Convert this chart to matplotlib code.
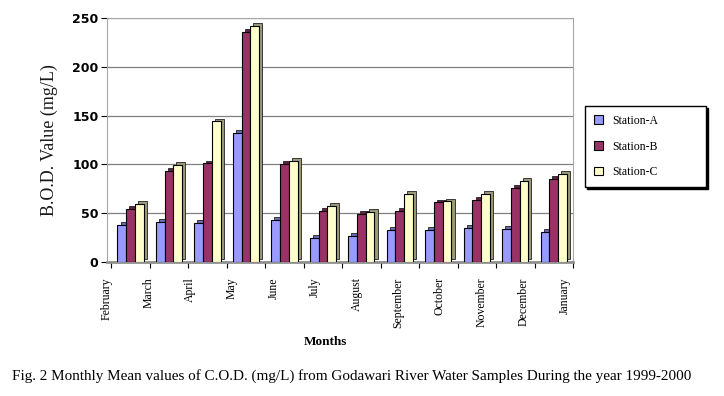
import matplotlib.pyplot as plt
from matplotlib.patches import Patch
import numpy as np

months = ['February', 'March', 'April', 'May', 'June', 'July', 'August',
          'September', 'October', 'November', 'December', 'January']
station_a = [38, 41, 40, 132, 43, 25, 27, 33, 33, 35, 34, 31]
station_b = [54, 93, 101, 236, 100, 52, 49, 52, 61, 64, 76, 85]
station_c = [59, 99, 144, 242, 104, 57, 51, 70, 62, 70, 83, 90]
series_names = ['Station-A', 'Station-B', 'Station-C']
y_ticks = [0, 50, 100, 150, 200, 250]

front_colors = ['#9999ff', '#993366', '#ffffcc']
depth_colors = ['#6a6ab8', '#661f44', '#9a9a78']

serif = 'Liberation Serif'

fig = plt.figure(figsize=(7.24, 3.96), dpi=100)
ax = fig.add_axes([0.1474, 0.3384, 0.644, 0.616])

x = np.arange(len(months))
width = 0.227
dx, dy = 0.08, 3.0  # fake 3d depth of each bar

for i, vals in enumerate([station_a, station_b, station_c]):
    pos = x + (i - 1) * width
    # side/top face drawn as a shifted darker bar behind the front face
    ax.bar(pos + dx, vals, width=width, bottom=dy, color=depth_colors[i],
           edgecolor='#222222', linewidth=0.6, zorder=2 + 2 * i)
    ax.bar(pos, vals, width=width, color=front_colors[i],
           edgecolor='black', linewidth=0.8, zorder=3 + 2 * i)

ax.set_xlim(-0.5, 11.5)
ax.set_ylim(0, 250)
ax.set_yticks(y_ticks)
ax.set_yticklabels([str(v) for v in y_ticks], fontfamily='DejaVu Sans',
                   fontweight='bold', fontsize=9)
ax.tick_params(axis='y', length=4, width=0.8, pad=2)
ax.grid(axis='y', color='#808080', linewidth=0.9, zorder=0)
ax.set_axisbelow(True)

# category boundaries get the small ticks, month names drift as in the original
ax.set_xticks(np.arange(len(months) + 1) - 0.5, minor=True)
ax.tick_params(axis='x', which='minor', length=4, width=0.8)
label_pos = np.linspace(-0.62, 11.29, len(months))
ax.set_xticks(label_pos)
ax.set_xticklabels(months, rotation=90, fontfamily=serif, fontsize=8.5, va='top')
ax.tick_params(axis='x', which='major', length=0, pad=11)

for side in ['left', 'right', 'top']:
    ax.spines[side].set_color('#a8a8a8')
ax.spines['bottom'].set_color('#909090')
ax.spines['bottom'].set_linewidth(2)

ax.set_ylabel('B.O.D. Value (mg/L)', fontfamily=serif, fontsize=13,
              color='#1a1a1a', labelpad=10)

fig.text(0.449, 0.136, 'Months', fontfamily=serif, fontweight='bold',
         fontsize=9.5, ha='center', va='center')
fig.text(0.016, 0.05, 'Fig. 2 Monthly Mean values of C.O.D. (mg/L) from Godawari River '
         'Water Samples During the year 1999-2000', fontfamily=serif, fontsize=10.9,
         ha='left', va='center')

handles = [Patch(facecolor=c, edgecolor='black', linewidth=0.8) for c in front_colors]
leg = fig.legend(handles, series_names, loc='upper left',
                 bbox_to_anchor=(585 / 724, 1 - 106 / 396 - 0.01, 121 / 724, 0.01),
                 mode='expand', prop={'family': serif, 'size': 8.5},
                 handlelength=0.75, handleheight=0.75, labelspacing=1.16,
                 borderpad=0.75, handletextpad=0.8, borderaxespad=0, fancybox=False,
                 shadow={'color': 'black', 'alpha': 1, 'ox': 1.2, 'oy': -1.2})
leg.get_frame().set_edgecolor('black')
leg.get_frame().set_linewidth(1)

fig.savefig('out.png', dpi=100)
